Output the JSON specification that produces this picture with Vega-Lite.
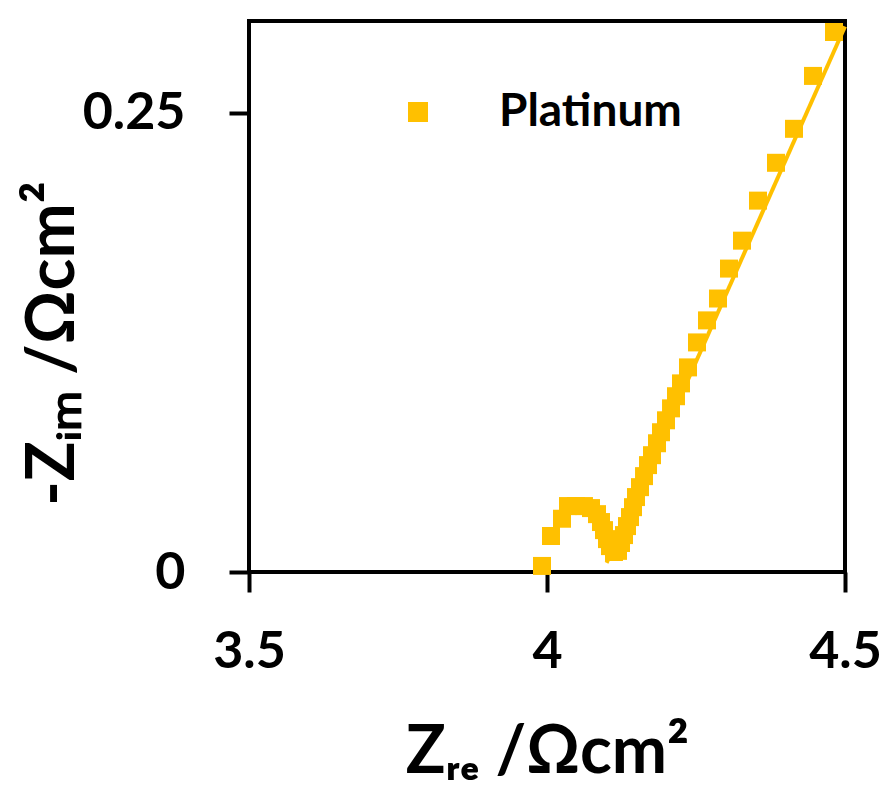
{
  "$schema": "https://vega.github.io/schema/vega-lite/v6.json",
  "width": 596,
  "height": 551,
  "autosize": "none",
  "padding": {"left": 249, "top": 21, "right": 45, "bottom": 215},
  "background": "white",
  "config": {
    "font": "Lato",
    "view": {"stroke": "black", "strokeWidth": 4},
    "axis": {"grid": false, "domain": false, "tickColor": "black", "tickWidth": 4, "tickSize": 20, "labelFont": "Lato", "labelFontWeight": "bold", "labelFontSize": 52, "labelColor": "black", "titleFont": "Lato", "titleFontWeight": "bold", "titleFontSize": 66, "titleColor": "black"}
  },
  "datasets": {
    "pts": [
      {"x": 3.9916, "y": 0.0033, "series": "Platinum"},
      {"x": 4.0067, "y": 0.0196, "series": "Platinum"},
      {"x": 4.0252, "y": 0.0290, "series": "Platinum"},
      {"x": 4.0352, "y": 0.0359, "series": "Platinum"},
      {"x": 4.0486, "y": 0.0359, "series": "Platinum"},
      {"x": 4.0620, "y": 0.0359, "series": "Platinum"},
      {"x": 4.0738, "y": 0.0348, "series": "Platinum"},
      {"x": 4.0839, "y": 0.0315, "series": "Platinum"},
      {"x": 4.0906, "y": 0.0272, "series": "Platinum"},
      {"x": 4.0956, "y": 0.0228, "series": "Platinum"},
      {"x": 4.1007, "y": 0.0179, "series": "Platinum"},
      {"x": 4.1057, "y": 0.0141, "series": "Platinum"},
      {"x": 4.1124, "y": 0.0109, "series": "Platinum"},
      {"x": 4.1191, "y": 0.0115, "series": "Platinum"},
      {"x": 4.1242, "y": 0.0158, "series": "Platinum"},
      {"x": 4.1292, "y": 0.0201, "series": "Platinum"},
      {"x": 4.1342, "y": 0.0250, "series": "Platinum"},
      {"x": 4.1393, "y": 0.0299, "series": "Platinum"},
      {"x": 4.1443, "y": 0.0353, "series": "Platinum"},
      {"x": 4.1493, "y": 0.0408, "series": "Platinum"},
      {"x": 4.1560, "y": 0.0462, "series": "Platinum"},
      {"x": 4.1628, "y": 0.0522, "series": "Platinum"},
      {"x": 4.1695, "y": 0.0582, "series": "Platinum"},
      {"x": 4.1762, "y": 0.0636, "series": "Platinum"},
      {"x": 4.1846, "y": 0.0701, "series": "Platinum"},
      {"x": 4.1913, "y": 0.0761, "series": "Platinum"},
      {"x": 4.1997, "y": 0.0826, "series": "Platinum"},
      {"x": 4.2081, "y": 0.0891, "series": "Platinum"},
      {"x": 4.2164, "y": 0.0957, "series": "Platinum"},
      {"x": 4.2248, "y": 0.1027, "series": "Platinum"},
      {"x": 4.2366, "y": 0.1114, "series": "Platinum"},
      {"x": 4.2517, "y": 0.1250, "series": "Platinum"},
      {"x": 4.2685, "y": 0.1370, "series": "Platinum"},
      {"x": 4.2869, "y": 0.1489, "series": "Platinum"},
      {"x": 4.3054, "y": 0.1652, "series": "Platinum"},
      {"x": 4.3272, "y": 0.1804, "series": "Platinum"},
      {"x": 4.3540, "y": 0.2022, "series": "Platinum"},
      {"x": 4.3842, "y": 0.2228, "series": "Platinum"},
      {"x": 4.4144, "y": 0.2413, "series": "Platinum"},
      {"x": 4.4463, "y": 0.2701, "series": "Platinum"},
      {"x": 4.4815, "y": 0.2940, "series": "Platinum"}
    ],
    "fit": [
      {"x": 4.10, "y": 0.005},
      {"x": 4.50, "y": 0.297}
    ]
  },
  "layer": [
    {
      "mark": {"type": "rule", "color": "black", "strokeWidth": 4, "clip": false},
      "encoding": {
        "x": {"datum": 3.3725, "type": "quantitative"},
        "x2": {"datum": 4.5},
        "y": {"datum": 0.3, "type": "quantitative"}
      }
    },
    {
      "data": {"name": "fit"},
      "mark": {"type": "line", "color": "#FFC000", "strokeWidth": 4},
      "encoding": {
        "x": {"field": "x", "type": "quantitative"},
        "y": {"field": "y", "type": "quantitative"}
      }
    },
    {
      "data": {"name": "pts"},
      "mark": {"type": "point", "shape": "square", "filled": true, "opacity": 1, "size": 324},
      "encoding": {
        "x": {
          "field": "x", "type": "quantitative",
          "scale": {"domain": [3.5, 4.5], "nice": false, "zero": false},
          "axis": {"values": [3.5, 4, 4.5], "format": "~g", "labelPadding": 34, "labelFlush": false, "title": "Zᵣₑ /Ωcm²", "titleBaseline": "alphabetic", "titleY": 200}
        },
        "y": {
          "field": "y", "type": "quantitative",
          "scale": {"domain": [0, 0.3], "nice": false},
          "axis": {"values": [0, 0.25], "format": "~g", "labelPadding": 44, "title": "-Zᵢₘ /Ωcm²", "titleBaseline": "alphabetic", "titleX": -176, "titleY": 322}
        },
        "color": {
          "field": "series", "type": "nominal",
          "scale": {"range": ["#FFC000"]},
          "legend": {"orient": "none", "legendX": 146, "legendY": 68, "title": null, "symbolType": "square", "symbolSize": 400, "symbolOpacity": 1, "labelFont": "Lato", "labelFontWeight": "bold", "labelFontSize": 46, "labelColor": "black", "labelOffset": 58, "labelLimit": 0, "padding": 0}
        }
      }
    }
  ]
}
